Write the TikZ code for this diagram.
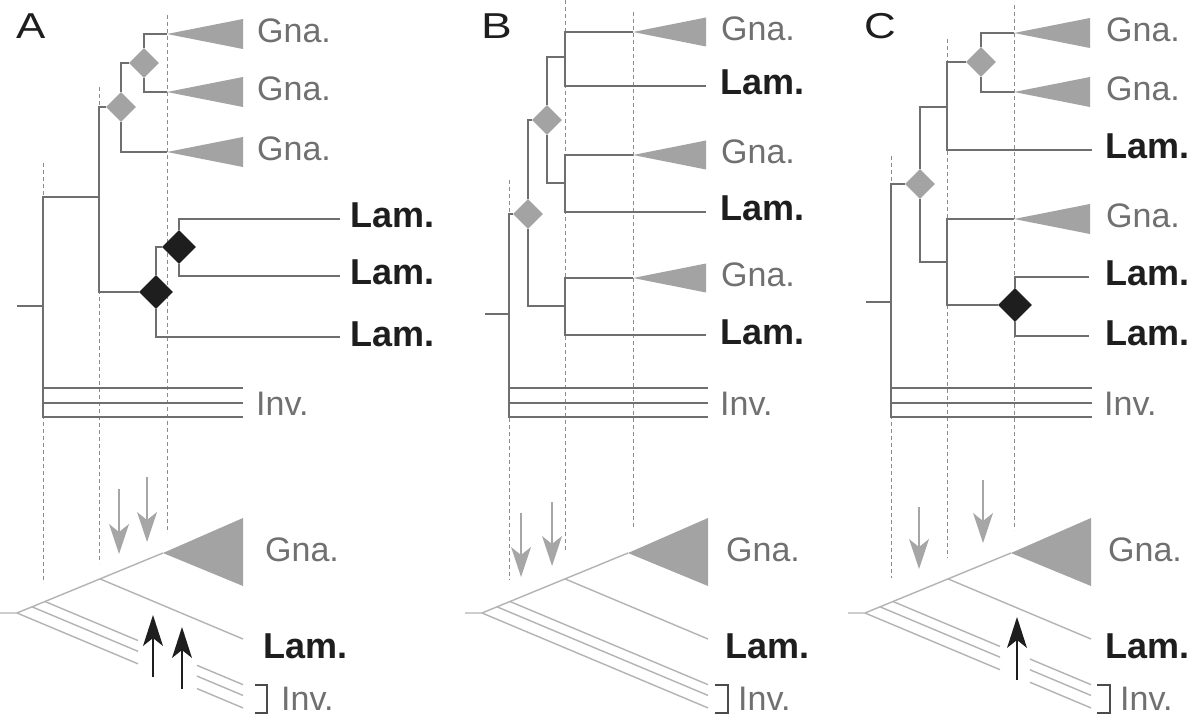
\documentclass[tikz,border=0pt]{standalone}
\usepackage{fontspec}
\setmainfont{Liberation Sans}
\usetikzlibrary{shapes.geometric,arrows.meta,calc}
\definecolor{treegray}{HTML}{6F6F6F}
\definecolor{trigray}{HTML}{A3A3A3}
\definecolor{textgray}{HTML}{707070}
\definecolor{lowgray}{HTML}{B3B3B3}
\definecolor{dashgray}{HTML}{8C8C8C}
\definecolor{arrowgray}{HTML}{A6A6A6}
\definecolor{ink}{HTML}{1E1E1E}
\tikzset{
  tree/.style={draw=treegray, line width=2.2pt},
  guide/.style={draw=dashgray, line width=1pt, dash pattern=on 4pt off 3pt},
  low/.style={draw=lowgray, line width=1.4pt},
  gdia/.style={diamond, fill=trigray, minimum width=30pt, minimum height=30pt, inner sep=0pt},
  bdia/.style={diamond, fill=ink, minimum width=34pt, minimum height=34pt, inner sep=0pt},
  clade/.style={fill=trigray},
  gna/.style={font=\fontsize{34}{34}\selectfont, text=textgray, anchor=base west, inner sep=0pt},
  inv/.style={font=\fontsize{34}{34}\selectfont, text=textgray, anchor=base west, inner sep=0pt},
  lam/.style={font=\bfseries\fontsize{36}{36}\selectfont, text=ink, anchor=base west, inner sep=0pt},
  panel/.style={font=\fontsize{36}{36}\selectfont, text=ink, anchor=base west, inner sep=0pt},
  downshaft/.style={draw=arrowgray, line width=2.7pt},
  upshaft/.style={draw=ink, line width=2.7pt},
  bracketline/.style={draw=ink!80, line width=1.5pt},
}
\newcommand\lowtree[4]{%
\begin{scope}[shift={(#2,0)}]
  \coordinate (#1s) at (0,613);
  \coordinate (#1r) at (17,613);
  \coordinate (#1apex) at (163,553);
  \coordinate (#1tu) at (243,518);
  \coordinate (#1td) at (243,586);
  \coordinate (#1lb) at (100,578.9);
  \coordinate (#1le) at (243,639);
  \coordinate (#1ia) at (17,613);
  \coordinate (#1ig) at ({#3},{613+0.42*(#3-17)});
  \coordinate (#1ih) at ({#4},{613+0.42*(#4-17)});
  \coordinate (#1ib) at (243,{613+0.42*226});
  \coordinate (#1ja) at (32,606.8);
  \coordinate (#1jg) at ({#3},{606.8+0.42*(#3-32)});
  \coordinate (#1jh) at ({#4},{606.8+0.42*(#4-32)});
  \coordinate (#1jb) at (243,{606.8+0.42*211});
  \coordinate (#1ka) at (45,601.5);
  \coordinate (#1kg) at ({#3},{601.5+0.42*(#3-45)});
  \coordinate (#1kh) at ({#4},{601.5+0.42*(#4-45)});
  \coordinate (#1kb) at (243,{601.5+0.42*198});
  \draw[low] (#1s) -- (#1r) -- (#1apex);
  \fill[clade] (#1apex) -- (#1tu) -- (#1td) -- cycle;
  \draw[low] (#1lb) -- (#1le);
  \draw[low] (#1ia) -- (#1ig) (#1ih) -- (#1ib);
  \draw[low] (#1ja) -- (#1jg) (#1jh) -- (#1jb);
  \draw[low] (#1ka) -- (#1kg) (#1kh) -- (#1kb);
\end{scope}}
\begin{document}
\begin{tikzpicture}[x=1pt,y=-1pt]
\fill[white] (0,0) rectangle (1200,722);
\useasboundingbox (0,0) rectangle (1200,722);

% ---------- dashed guide lines ----------
\coordinate (ga1t) at (43,163);  \coordinate (ga1b) at (43,583);
\coordinate (ga2t) at (99,87);   \coordinate (ga2b) at (99,563);
\coordinate (ga3t) at (167,15);  \coordinate (ga3b) at (167,533);
\coordinate (gb1t) at (509,180); \coordinate (gb1b) at (509,580);
\coordinate (gb2t) at (565,0);   \coordinate (gb2b) at (565,552);
\coordinate (gb3t) at (633,12);  \coordinate (gb3b) at (633,528);
\coordinate (gc1t) at (891,156); \coordinate (gc1b) at (891,578);
\coordinate (gc2t) at (947,39);  \coordinate (gc2b) at (947,558);
\coordinate (gc3t) at (1014,5);  \coordinate (gc3b) at (1014,530);
\foreach \g in {ga1,ga2,ga3,gb1,gb2,gb3,gc1,gc2,gc3}
  \draw[guide] (\g t) -- (\g b);

% ---------- panel letters ----------
\node[panel] (labA) at (16,39) {\scalebox{1.22}[1]{A}};
\node[panel] (labB) at (481,39) {\scalebox{1.28}[1]{B}};
\node[panel] (labC) at (864,39) {\scalebox{1.22}[1]{C}};

% ================= PANEL A (top) =================
\coordinate (A0) at (17,306);
\coordinate (Ar) at (43,306);
\coordinate (An1) at (99,197);
\node[gdia] (AD1) at (121,107) {};
\node[gdia] (AD2) at (144,63) {};
\node[bdia] (AB1) at (156,292) {};
\node[bdia] (AB2) at (179,247) {};
\coordinate (At1) at (167,34);
\coordinate (At2) at (167,92);
\coordinate (At3) at (167,152);
\coordinate (AL1) at (340,219);
\coordinate (AL2) at (340,276);
\coordinate (AL3) at (340,337);
\coordinate (AI1) at (243,388);
\coordinate (AI2) at (243,403);
\coordinate (AI3) at (243,417);
\draw[tree] (A0) -- (Ar);
\draw[tree] (Ar) |- (An1);
\draw[tree] (Ar) |- (AI1);
\draw[tree] (Ar) |- (AI2);
\draw[tree] (Ar) |- (AI3);
\draw[tree] (An1) |- (AD1);
\draw[tree] (An1) |- (AB1);
\draw[tree] (AD1) |- (AD2);
\draw[tree] (AD1) |- (At3);
\draw[tree] (AD2) |- (At1);
\draw[tree] (AD2) |- (At2);
\draw[tree] (AB1) |- (AB2);
\draw[tree] (AB1) |- (AL3);
\draw[tree] (AB2) |- (AL1);
\draw[tree] (AB2) |- (AL2);
\foreach \t in {At1,At2,At3}
  \fill[clade] (\t) -- ++(76,-15) -- ++(0,30) -- cycle;
\node[gna] (Ag1) at (257,43) {Gna.};
\node[gna] (Ag2) at (257,101) {Gna.};
\node[gna] (Ag3) at (257,161) {Gna.};
\node[lam] (Al1) at (350,228) {Lam.};
\node[lam] (Al2) at (350,285) {Lam.};
\node[lam] (Al3) at (350,346) {Lam.};
\node[inv] (Ai) at (256,415) {Inv.};

% ================= PANEL B (top) =================
\coordinate (B0) at (485,314);
\coordinate (Br) at (509,314);
\node[gdia] (BD1) at (528,214) {};
\node[gdia] (BD2) at (547,120) {};
\coordinate (Bn1) at (565,57);
\coordinate (Bn2) at (565,183);
\coordinate (Bn3) at (565,306);
\coordinate (Bt1) at (633,32);
\coordinate (Bt2) at (633,155);
\coordinate (Bt3) at (633,278);
\coordinate (BL1) at (706,86);
\coordinate (BL2) at (706,212);
\coordinate (BL3) at (706,335);
\coordinate (BI1) at (708,388);
\coordinate (BI2) at (708,403);
\coordinate (BI3) at (708,417);
\draw[tree] (B0) -- (Br);
\draw[tree] (Br) |- (BD1);
\draw[tree] (Br) |- (BI1);
\draw[tree] (Br) |- (BI2);
\draw[tree] (Br) |- (BI3);
\draw[tree] (BD1) |- (BD2);
\draw[tree] (BD1) |- (Bn3);
\draw[tree] (BD2) |- (Bn1);
\draw[tree] (BD2) |- (Bn2);
\draw[tree] (Bn1) |- (Bt1);
\draw[tree] (Bn1) |- (BL1);
\draw[tree] (Bn2) |- (Bt2);
\draw[tree] (Bn2) |- (BL2);
\draw[tree] (Bn3) |- (Bt3);
\draw[tree] (Bn3) |- (BL3);
\foreach \t in {Bt1,Bt2,Bt3}
  \fill[clade] (\t) -- ++(73,-14.5) -- ++(0,29) -- cycle;
\node[gna] (Bg1) at (721,41) {Gna.};
\node[lam] (Bl1) at (720,95) {Lam.};
\node[gna] (Bg2) at (721,164) {Gna.};
\node[lam] (Bl2) at (720,221) {Lam.};
\node[gna] (Bg3) at (721,287) {Gna.};
\node[lam] (Bl3) at (720,344) {Lam.};
\node[inv] (Bi) at (720,415) {Inv.};

% ================= PANEL C (top) =================
\coordinate (C0) at (866,302);
\coordinate (Cr) at (891,302);
\node[gdia] (CD1) at (920,184) {};
\coordinate (Cn1) at (947,107);
\node[gdia] (CD2) at (981,62) {};
\coordinate (Cn2) at (947,262);
\node[bdia] (CB) at (1015,305) {};
\coordinate (Ct1) at (1014,33);
\coordinate (Ct2) at (1014,92);
\coordinate (Ct3) at (1014,219);
\coordinate (CL1) at (1092,150);
\coordinate (CL2) at (1089,277);
\coordinate (CL3) at (1089,336);
\coordinate (CI1) at (1092,388);
\coordinate (CI2) at (1092,403);
\coordinate (CI3) at (1092,417);
\draw[tree] (C0) -- (Cr);
\draw[tree] (Cr) |- (CD1);
\draw[tree] (Cr) |- (CI1);
\draw[tree] (Cr) |- (CI2);
\draw[tree] (Cr) |- (CI3);
\draw[tree] (CD1) |- (Cn1);
\draw[tree] (CD1) |- (Cn2);
\draw[tree] (Cn1) |- (CD2);
\draw[tree] (Cn1) |- (CL1);
\draw[tree] (CD2) |- (Ct1);
\draw[tree] (CD2) |- (Ct2);
\draw[tree] (Cn2) |- (Ct3);
\draw[tree] (Cn2) |- (CB);
\draw[tree] (CB) |- (CL2);
\draw[tree] (CB) |- (CL3);
\foreach \t in {Ct1,Ct2,Ct3}
  \fill[clade] (\t) -- ++(76,-15) -- ++(0,30) -- cycle;
\node[gna] (Cg1) at (1106,42) {Gna.};
\node[gna] (Cg2) at (1106,101) {Gna.};
\node[lam] (Cl1) at (1105,159) {Lam.};
\node[gna] (Cg3) at (1106,228) {Gna.};
\node[lam] (Cl2) at (1105,286) {Lam.};
\node[lam] (Cl3) at (1105,345) {Lam.};
\node[inv] (Ci) at (1104,415) {Inv.};

% ================= bottom trees =================
\lowtree{a}{0}{138}{197}
\lowtree{b}{465}{150}{150}
\lowtree{c}{848}{152}{182}

% brackets
\coordinate (ba1) at (255,685); \coordinate (ba2) at (267,685);
\coordinate (ba3) at (267,713); \coordinate (ba4) at (255,713);
\draw[bracketline] (ba1) -- (ba2) -- (ba3) -- (ba4);
\coordinate (bb1) at (715,685); \coordinate (bb2) at (728,685);
\coordinate (bb3) at (728,713); \coordinate (bb4) at (715,713);
\draw[bracketline] (bb1) -- (bb2) -- (bb3) -- (bb4);
\coordinate (bc1) at (1097,685); \coordinate (bc2) at (1110,685);
\coordinate (bc3) at (1110,713); \coordinate (bc4) at (1097,713);
\draw[bracketline] (bc1) -- (bc2) -- (bc3) -- (bc4);

% bottom labels
\node[gna] (aG) at (265,561) {Gna.};
\node[lam] (aL) at (263,658) {Lam.};
\node[inv] (aI) at (281,710) {Inv.};
\node[gna] (bG) at (726,561) {Gna.};
\node[lam] (bL) at (725,658) {Lam.};
\node[inv] (bI) at (738,710) {Inv.};
\node[gna] (cG) at (1108,561) {Gna.};
\node[lam] (cL) at (1105,658) {Lam.};
\node[inv] (cI) at (1120,710) {Inv.};

% gray arrows (down): shaft + filled stealth head
\coordinate (da1s) at (119,489); \coordinate (da1e) at (119,554);
\coordinate (da2s) at (147,477); \coordinate (da2e) at (147,542);
\coordinate (db1s) at (521,513); \coordinate (db1e) at (521,577);
\coordinate (db2s) at (552,502); \coordinate (db2e) at (552,566);
\coordinate (dc1s) at (919,507); \coordinate (dc1e) at (919,569);
\coordinate (dc2s) at (983,480); \coordinate (dc2e) at (983,543);
\foreach \d in {da1,da2,db1,db2,dc1,dc2}{
  \draw[downshaft] (\d s) -- ($(\d e)+(0,-20)$);
  \fill[arrowgray] (\d e) -- ++(-10,-30) -- ++(10,8) -- ++(10,-8) -- cycle;
}

% black arrows (up): shaft + filled stealth head
\coordinate (ua1s) at (153,677); \coordinate (ua1e) at (153,615);
\coordinate (ua2s) at (182,689); \coordinate (ua2e) at (182,627);
\coordinate (uc1s) at (1017,680); \coordinate (uc1e) at (1017,617);
\foreach \u in {ua1,ua2,uc1}{
  \draw[upshaft] (\u s) -- ($(\u e)+(0,20)$);
  \fill[ink] (\u e) -- ++(-10,31) -- ++(10,-8) -- ++(10,8) -- cycle;
}
\end{tikzpicture}
\end{document}
